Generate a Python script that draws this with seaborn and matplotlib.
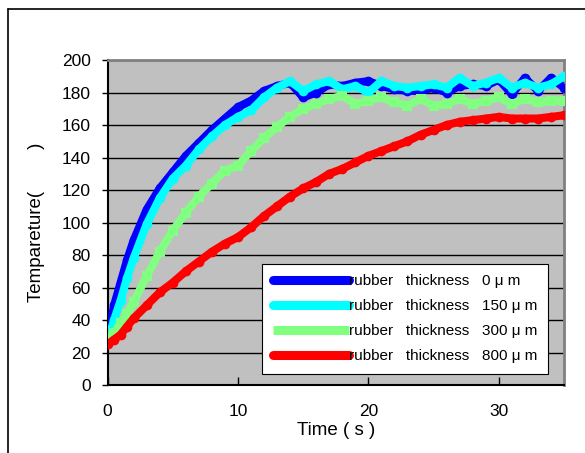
import matplotlib
matplotlib.use("Agg")
import matplotlib.pyplot as plt
from matplotlib.lines import Line2D
import seaborn as sns
import pandas as pd

# time axis (s) and readings (deg C) for each rubber thickness
time_s = [0, 0.5, 1, 1.5, 2] + list(range(3, 36))

temp_0um = [27, 49, 63, 77, 89, 108, 121, 131, 141, 149, 157, 164, 171, 175, 181,
            184, 186, 177, 180, 185, 184, 186, 187, 184, 182, 181, 181, 183, 180,
            184, 185, 184, 188, 179, 189, 181, 189, 183]
temp_150um = [27, 40, 52, 66, 78, 99, 115, 127, 135, 145, 153, 160, 165, 169, 177,
              183, 187, 181, 185, 187, 182, 184, 180, 187, 184, 183, 184, 185, 183,
              189, 184, 186, 189, 183, 186, 183, 185, 190]
temp_300um = [28, 32, 38, 44, 51, 67, 82, 95, 106, 116, 124, 132, 135, 144, 152,
              159, 165, 170, 173, 176, 178, 173, 175, 177, 174, 172, 176, 172, 173,
              176, 173, 175, 177, 173, 176, 174, 175, 175]
temp_800um = [25, 28, 31, 36, 41, 49, 57, 63, 70, 76, 82, 87, 91, 97, 104, 110, 116,
              121, 125, 130, 133, 137, 141, 144, 147, 150, 154, 157, 160, 162, 163,
              164, 165, 164, 164, 164, 165, 166]

labels = ["rubber   thickness   0 μ m", "rubber   thickness   150 μ m",
          "rubber   thickness   300 μ m", "rubber   thickness   800 μ m"]
colors = ["#0000ff", "#00ffff", "#80ff80", "#ff0000"]
markers = ["o", "o", "s", "o"]

sns.set_style("white")
plt.rcParams["font.family"] = ["Liberation Sans", "DejaVu Sans"]
plt.rcParams["text.color"] = "black"
plt.rcParams["axes.labelcolor"] = "black"
plt.rcParams["xtick.color"] = "black"
plt.rcParams["ytick.color"] = "black"

fig = plt.figure(figsize=(5.85, 4.53), dpi=100)
ax = fig.add_axes([0.1838, 0.150, 0.7803, 0.7175])
ax.set_facecolor("#c0c0c0")

series = [temp_0um, temp_150um, temp_300um, temp_800um]
handles = []
for vals, lab, col, mk in zip(series, labels, colors, markers):
    df = pd.DataFrame({"t": time_s, "T": vals})
    cap = "round" if mk == "o" else "butt"
    sns.lineplot(data=df, x="t", y="T", ax=ax, color=col, lw=5.8,
                 marker=mk, markersize=7, markeredgewidth=0,
                 solid_capstyle=cap, zorder=3)
    handles.append(Line2D([0], [0], color=col, lw=6.5, solid_capstyle=cap))

ax.set_xlim(0, 35)
ax.set_ylim(0, 200)
ax.set_xticks([0, 10, 20, 30])
ax.set_yticks(range(0, 201, 20))
ax.yaxis.grid(True, color="black", lw=1)
ax.xaxis.grid(False)
ax.set_axisbelow(True)

for s in ["left", "bottom"]:
    ax.spines[s].set_color("black")
    ax.spines[s].set_linewidth(1.5)
for s in ["top", "right"]:
    ax.spines[s].set_color("#808080")
    ax.spines[s].set_linewidth(2)

ax.tick_params(axis="y", direction="out", length=4, width=1, pad=8, labelsize=12.5,
               left=True)
ax.tick_params(axis="x", direction="in", length=6, width=1, pad=14, labelsize=12.5,
               bottom=True)

ax.set_xlabel("Time ( s )", fontsize=13.5, labelpad=2)
ax.set_ylabel("Tempareture(        )", fontsize=13.5, labelpad=12)

leg = ax.legend(handles, labels, loc="lower right", bbox_to_anchor=(0.965, 0.034),
                fontsize=11, handlelength=5.0, handletextpad=0.0,
                labelspacing=0.72, frameon=True, fancybox=False, framealpha=1,
                borderpad=0.7, borderaxespad=0)
leg.get_frame().set_edgecolor("black")
leg.get_frame().set_linewidth(0.8)

# outer chart frame
fig.add_artist(Line2D([8 / 585, 8 / 585], [0, 1 - 9 / 453], color="black", lw=1.2,
                      transform=fig.transFigure))
fig.add_artist(Line2D([8 / 585, 1], [1 - 9 / 453, 1 - 9 / 453], color="black", lw=1.2,
                      transform=fig.transFigure))

fig.savefig("out.png", dpi=100)
